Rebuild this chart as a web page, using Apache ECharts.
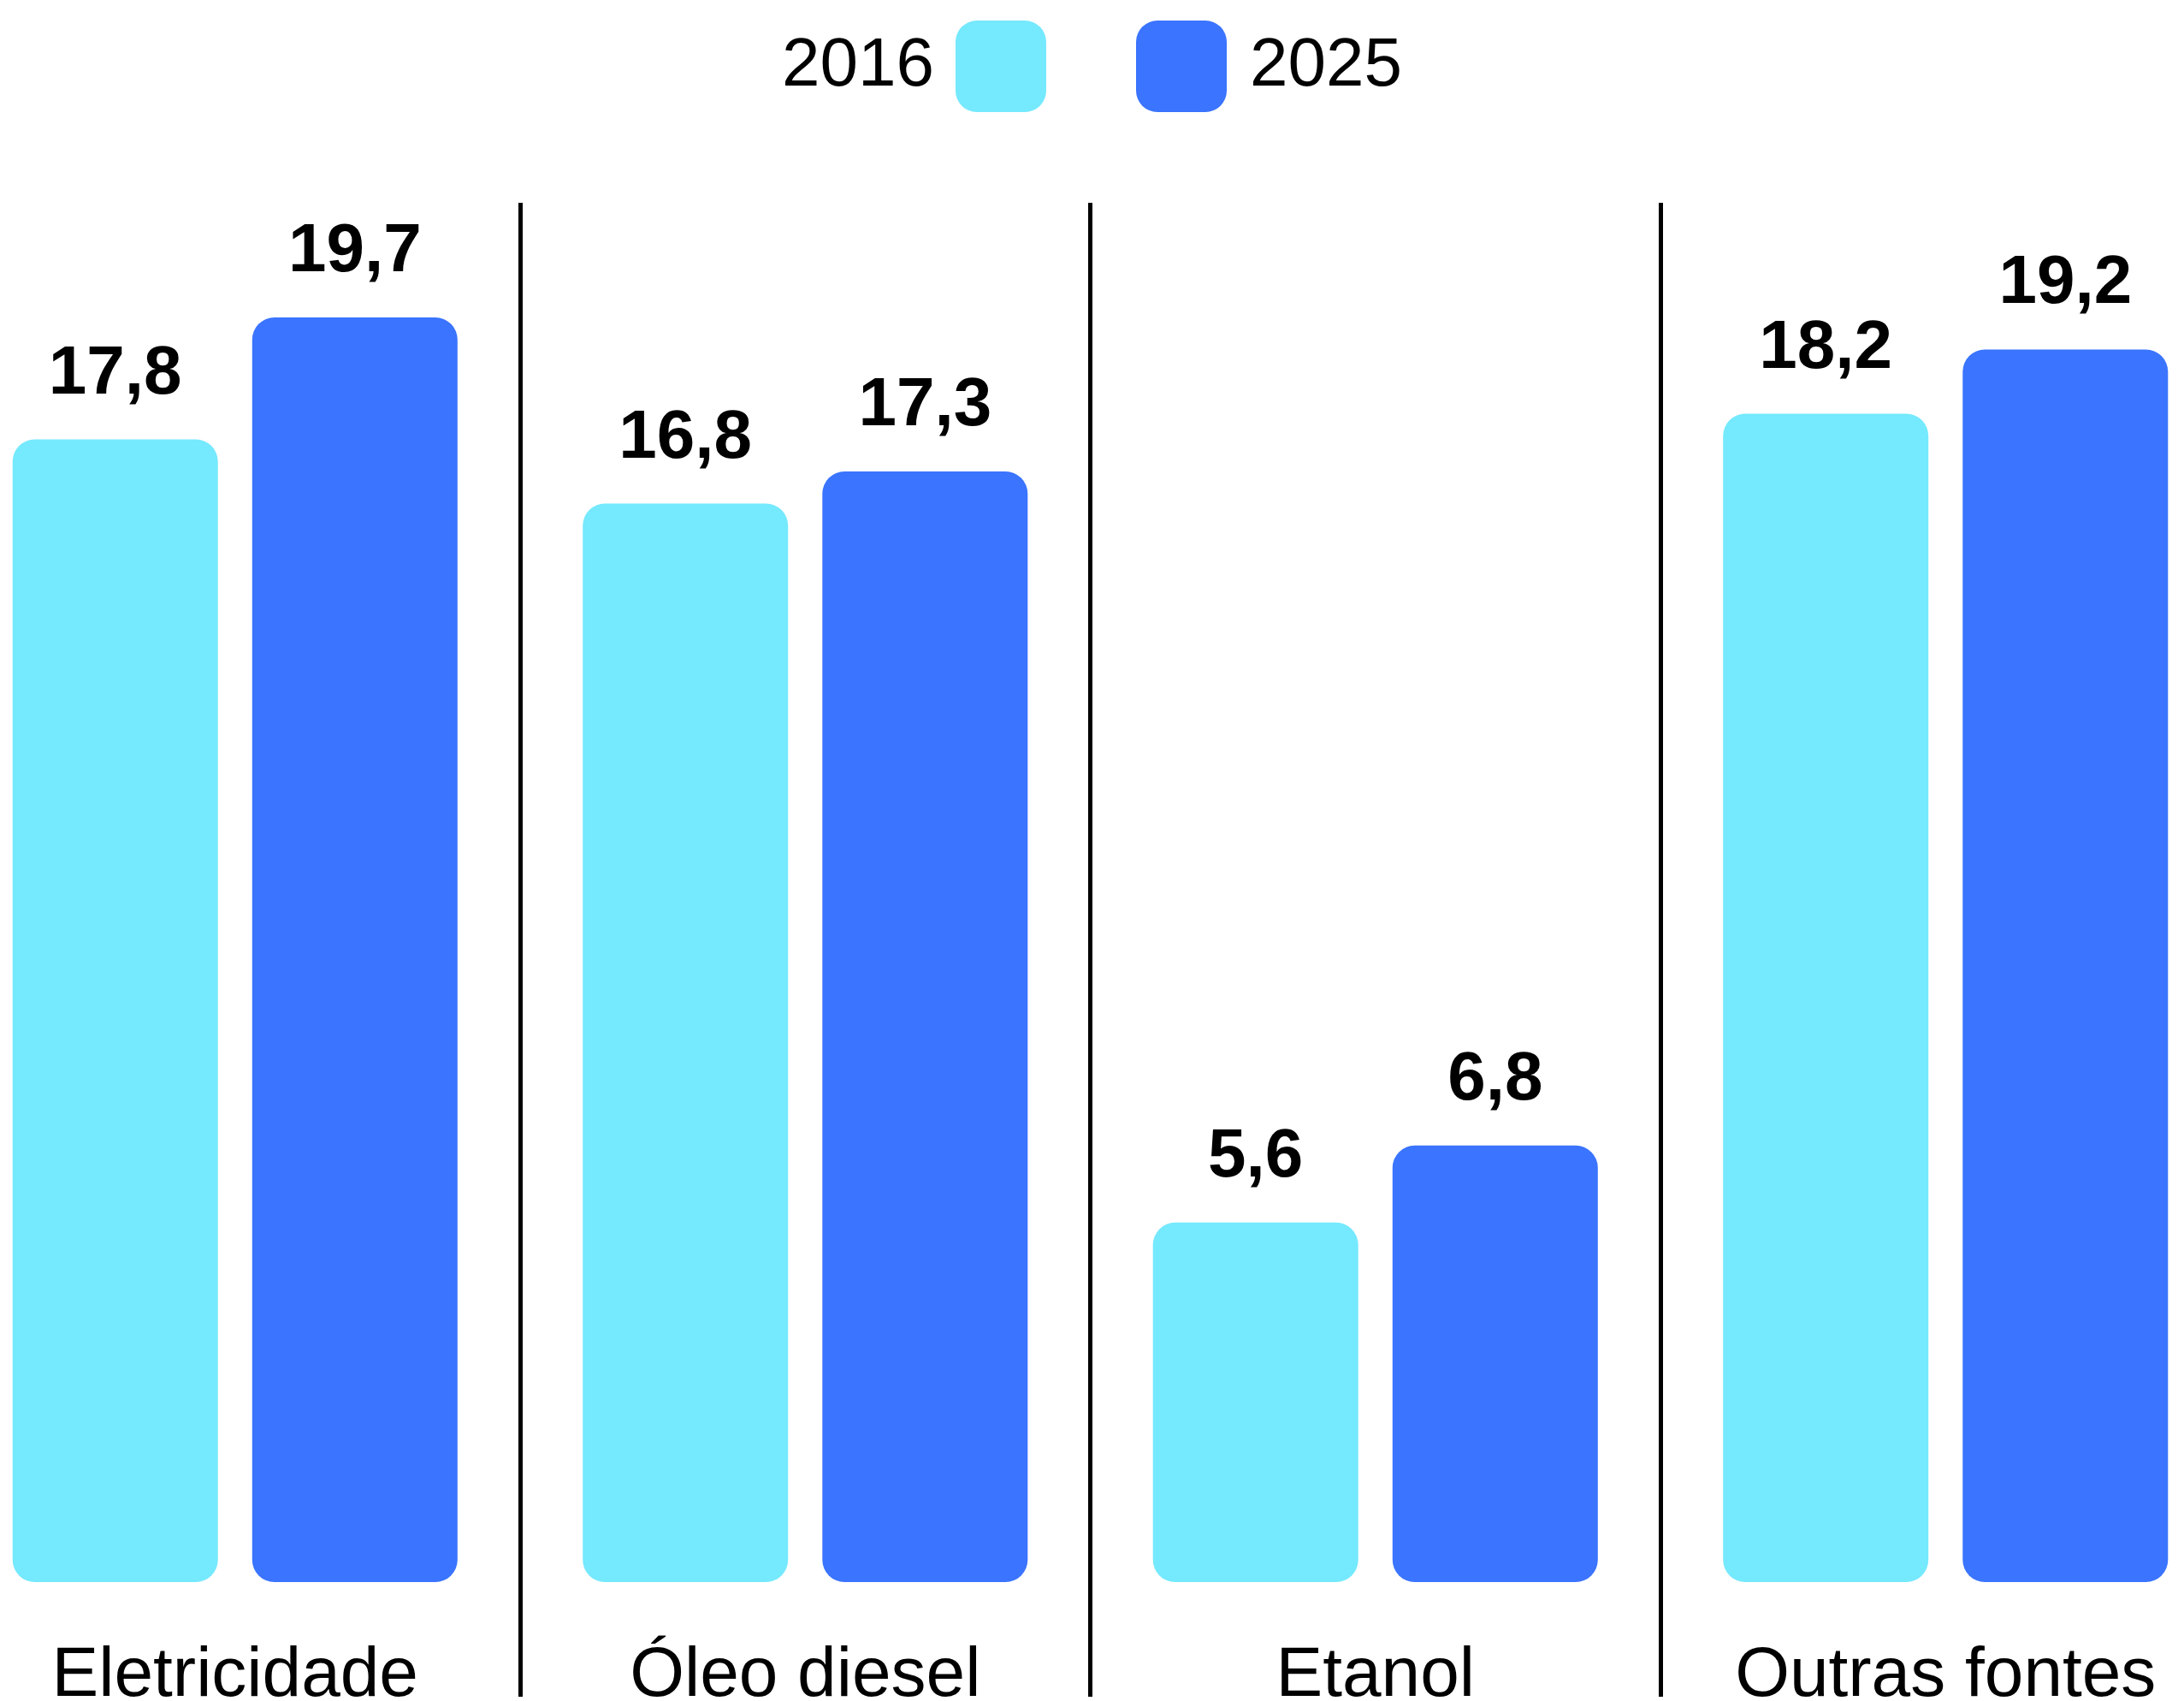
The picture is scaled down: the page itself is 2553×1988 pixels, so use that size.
<!DOCTYPE html>
<html>
<head>
<meta charset="utf-8">
<script src="https://cdn.jsdelivr.net/npm/echarts@6/dist/echarts.min.js"></script>
<style>
html,body{margin:0;padding:0;background:#fff;}
#chart{width:2553px;height:1988px;}
</style>
</head>
<body>
<div id="chart"></div>
<script>
const categories = ['Eletricidade', 'Óleo diesel', 'Etanol', 'Outras fontes'];
const seriesNames = ['2016', '2025'];
const values2016 = [17.8, 16.8, 5.6, 18.2];
const values2025 = [19.7, 17.3, 6.8, 19.2];

const colorLight = '#75E9FE';
const colorBlue = '#3A74FF';
const FONT = '"Liberation Sans", Arial, Helvetica, sans-serif';

const iconPath = 'path://M25,0 H81 A25,25 0 0 1 106,25 V82 A25,25 0 0 1 81,107 H25 A25,25 0 0 1 0,82 V25 A25,25 0 0 1 25,0 Z';

const chart = echarts.init(document.getElementById('chart'));

const fmt = p => p.value.toFixed(1).replace('.', ',');

const labelStyle = {
  show: true,
  position: 'top',
  distance: 36,
  formatter: fmt,
  fontFamily: FONT,
  fontWeight: 'bold',
  fontSize: 80,
  color: '#000'
};

chart.setOption({
  animation: false,
  backgroundColor: '#ffffff',
  legend: [
    {
      data: [{ name: seriesNames[0], icon: iconPath }],
      left: 914, top: 24, padding: 0,
      align: 'right',
      itemWidth: 106, itemHeight: 107,
      selectedMode: false,
      textStyle: { fontFamily: FONT, fontSize: 80, color: '#000', padding: [14, 20, 0, 0] }
    },
    {
      data: [{ name: seriesNames[1], icon: iconPath }],
      left: 1328, top: 24, padding: 0,
      align: 'left',
      itemWidth: 106, itemHeight: 107,
      selectedMode: false,
      textStyle: { fontFamily: FONT, fontSize: 80, color: '#000', padding: [14, 0, 0, 22] }
    }
  ],
  grid: [
    { left: -58.5, right: -54.5, top: 348.4, bottom: 139, containLabel: false, outerBoundsMode: 'none' },
    { left: -58.5, right: -54.5, top: 237, bottom: 5, containLabel: false, outerBoundsMode: 'none' }
  ],
  xAxis: [
    {
      type: 'category', gridIndex: 0, data: categories,
      axisLine: { show: false }, axisTick: { show: false },
      splitLine: { show: false },
      axisLabel: { show: true, interval: 0, margin: 69, fontFamily: FONT, fontSize: 82, color: '#000' }
    },
    {
      type: 'category', gridIndex: 1, data: categories,
      axisLine: { show: false }, axisTick: { show: false },
      axisLabel: { show: false },
      splitLine: { show: true, interval: 0, lineStyle: { color: '#000', width: 5 } }
    }
  ],
  yAxis: [
    { type: 'value', gridIndex: 0, min: 0, max: 20, show: false, splitLine: { show: false } },
    { type: 'value', gridIndex: 1, min: 0, max: 1, show: false, splitLine: { show: false } }
  ],
  series: [
    {
      name: seriesNames[0], type: 'bar', xAxisIndex: 0, yAxisIndex: 0,
      data: values2016, barWidth: 240, barGap: '16.7%',
      itemStyle: { color: colorLight, borderRadius: 26 },
      label: labelStyle
    },
    {
      name: seriesNames[1], type: 'bar', xAxisIndex: 0, yAxisIndex: 0,
      data: values2025, barWidth: 240, barGap: '16.7%',
      itemStyle: { color: colorBlue, borderRadius: 26 },
      label: labelStyle
    }
  ]
});
</script>
</body>
</html>
